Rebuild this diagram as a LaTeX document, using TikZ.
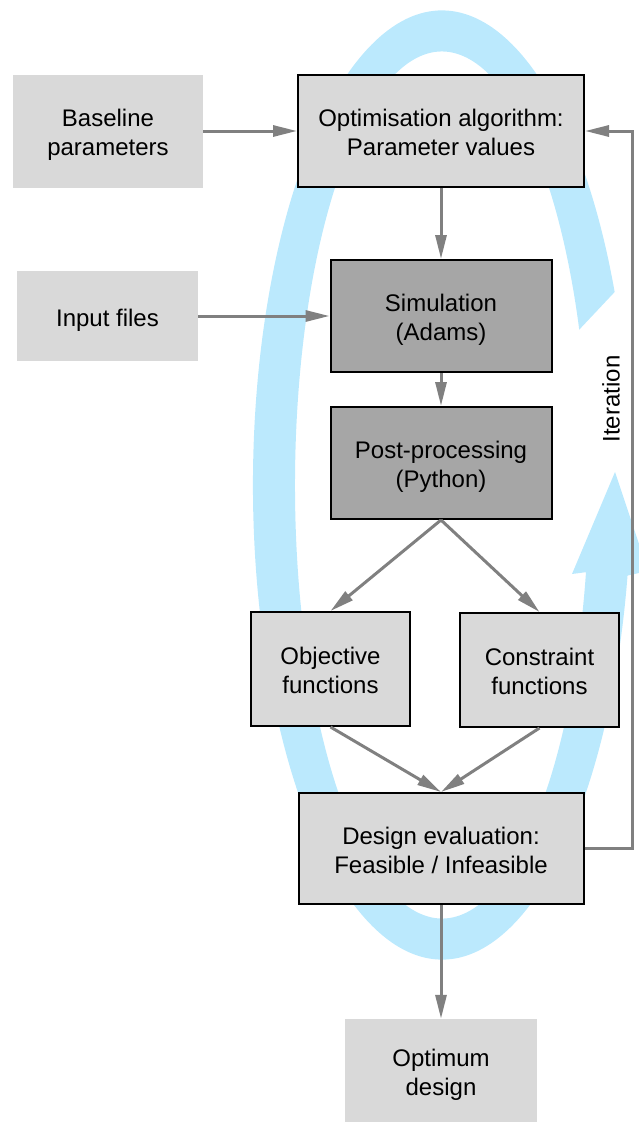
\documentclass[tikz,border=0pt]{standalone}
\usepackage{fontspec}
\setmainfont{Liberation Sans}
\usetikzlibrary{arrows.meta}
\definecolor{boxgray}{HTML}{D9D9D9}
\definecolor{simgray}{HTML}{A6A6A6}
\definecolor{linegray}{HTML}{808080}
\definecolor{loopblue}{RGB}{187,233,253}
% centred lines, set a little low in their box
\newcommand{\boxlines}[1]{\raisebox{0pt}[\dimexpr\height+9pt\relax][\depth]{\begin{tabular}{@{}c@{}}#1\end{tabular}}}
\begin{document}
\begin{tikzpicture}[x=1pt,y=-1pt,
  font=\fontsize{24}{29}\selectfont,
  box/.style={draw=black,line width=2pt,fill=boxgray,inner sep=0pt},
  darkbox/.style={box,fill=simgray},
  plainbox/.style={fill=boxgray,inner sep=0pt},
  flow/.style={draw=linegray,line width=3pt,-{Triangle[length=24pt,width=11pt]}}]
  \useasboundingbox (0,0) rectangle (638,1122);
  % light blue loop arrow behind the chart
  \begin{scope}[shift={(442,485)}]
    \fill[loopblue] (-24:189 and 474.5)
      arc[start angle=-24,end angle=-349,x radius=189,y radius=474.5]
      -- (206,86) -- (173,-13) -- (130,89) -- (11.6:147 and 433.5)
      arc[start angle=11.6,end angle=339,x radius=147,y radius=433.5] -- cycle;
  \end{scope}
  % boxes
  \node[plainbox,minimum width=190pt,minimum height=113pt] (base) at (108,131) {\boxlines{Baseline\\parameters}};
  \node[box,minimum width=286pt,minimum height=112pt] (opt) at (441,131) {\boxlines{Optimisation algorithm:\\Parameter values}};
  \node[plainbox,minimum width=181pt,minimum height=90pt] (input) at (107.5,316) {\boxlines{Input files}};
  \node[darkbox,minimum width=221pt,minimum height=112pt] (sim) at (441,316) {\boxlines{Simulation\\(Adams)}};
  \node[darkbox,minimum width=221pt,minimum height=112pt] (post) at (441,463) {\boxlines{Post-processing\\(Python)}};
  \node[box,minimum width=159pt,minimum height=114pt] (obj) at (330.5,669) {\boxlines{Objective\\functions}};
  \node[box,minimum width=159pt,minimum height=114pt] (con) at (539.5,670) {\boxlines{Constraint\\functions}};
  \node[box,minimum width=285pt,minimum height=111pt] (design) at (441,848.5) {\boxlines{Design evaluation:\\Feasible / Infeasible}};
  \node[plainbox,minimum width=192pt,minimum height=103pt] (optimum) at (441,1070.5) {\boxlines{Optimum\\design}};
  \node[rotate=90] (iterlabel) at (611,399) {Iteration};
  % connectors
  \draw[flow] (base) -- (opt);
  \draw[flow] (input) -- (sim);
  \draw[flow] (opt) -- (sim);
  \draw[flow] (sim) -- (post);
  \draw[flow] (post.south) -- (obj.north);
  \draw[flow] (post.south) -- (con.north);
  \draw[flow] (obj.south) -- (design.north);
  \draw[flow] (con.south) -- (design.north);
  \draw[flow] (design) -- (optimum);
  \draw[flow] (design.east) -- ++(48,0) |- (opt.east);
\end{tikzpicture}
\end{document}
